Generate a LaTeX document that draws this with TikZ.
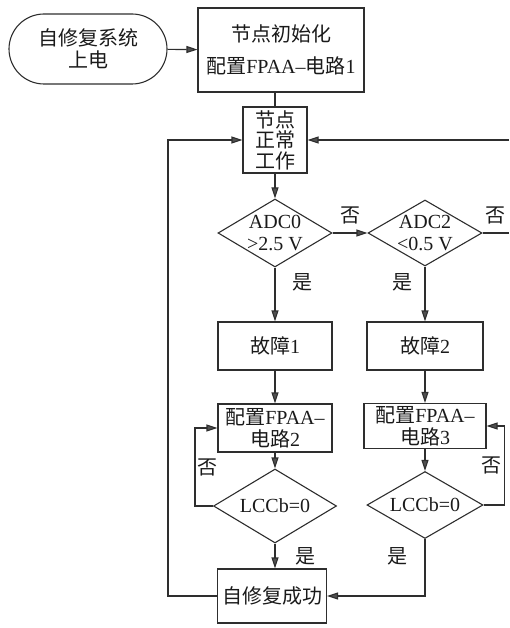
\documentclass[tikz,border=0pt]{standalone}
\usepackage{fontspec}
\usepackage{tikz}
\setmainfont{Liberation Serif}
\newfontfamily\cjk{Noto Sans CJK SC}
\usetikzlibrary{positioning, arrows.meta, shapes.geometric, shapes.misc}
\definecolor{lineDark}{HTML}{2E2E2E}
\definecolor{tipGray}{HTML}{505050}
\definecolor{fg}{HTML}{1A1A1A}
\newcommand{\zh}[1]{{\cjk #1}}
\tikzset{
  baseFont/.style={font=\fontsize{20pt}{22pt}\selectfont, text=fg},
  procBox/.style={baseFont, draw=lineDark, line width=1.1pt, rectangle, inner sep=1pt, align=center},
  termBox/.style={procBox, rounded rectangle, minimum width=160pt, minimum height=70pt},
  decBox/.style={procBox, diamond, aspect=1.7, inner sep=-6pt},
  flowLine/.style={draw=lineDark, line width=1.1pt},
  flowArrow/.style={flowLine, -{Triangle[length=11pt, width=7pt, fill=tipGray]}},
  yesNo/.style={baseFont, inner sep=2pt}
}

\begin{document}
\begin{tikzpicture}[x=1pt, y=-1pt]
      \useasboundingbox (0,0) rectangle (509,628);
      \node[termBox] (power) at (88,49) {\zh{自修复系统}\\\zh{上电}};
      \node[procBox, minimum width=166pt, minimum height=84pt] (init) at (281,50)
        {\zh{节点初始化}\\[10pt]\zh{配置}FPAA--\zh{电路}1};
      \node[procBox, minimum width=64pt, minimum height=66pt,
            font=\fontsize{20pt}{20.5pt}\selectfont] (normal) at (275,140)
        {\zh{节点}\\\zh{正常}\\\zh{工作}};
      \node[decBox, minimum width=114pt, minimum height=68pt] (adcA) at (275,233) {ADC0\\{>}2.5 V};
      \node[decBox, minimum width=114pt, minimum height=66pt] (adcB) at (425,233) {ADC2\\{<}0.5 V};
      \node[procBox, minimum width=114pt, minimum height=48pt] (faultA) at (275,346) {\zh{故障}1};
      \node[procBox, minimum width=116pt, minimum height=48pt] (faultB) at (425,346) {\zh{故障}2};
      \node[procBox, minimum width=114pt, minimum height=48pt] (cfgA) at (275,428)
        {\zh{配置}FPAA--\\\zh{电路}2};
      \node[procBox, minimum width=122pt, minimum height=45pt] (cfgB) at (425,426)
        {\zh{配置}FPAA--\\\zh{电路}3};
      \node[decBox, minimum width=123pt, minimum height=74pt] (lccA) at (275,506) {LCCb=0};
      \node[decBox, minimum width=116pt, minimum height=67pt] (lccB) at (425,505) {LCCb=0};
      \node[procBox, minimum width=109pt, minimum height=54pt] (done) at (272,596) {\zh{自修复成功}};

      % free ends at the cut edge and the back loop
      \coordinate (edgeTop) at (509,140);
      \coordinate (edgeMid) at (509,233);
      \coordinate (loopL) at (168,596);

      \draw[flowArrow] (power) -- (init);
      \draw[flowLine] (init.south -| normal.north) -- (normal.north);
      \draw[flowArrow] (normal) -- (adcA);
      \draw[flowArrow] (adcA) -- node[yesNo, above=6pt] {\zh{否}} (adcB);
      \draw[flowLine] (adcB) -- node[yesNo, above=6pt] {\zh{否}} (edgeMid);
      \draw[flowArrow] (edgeTop) -- (normal);
      \draw[flowArrow] (adcA) -- node[yesNo, pos=.28, right=15pt] {\zh{是}} (faultA);
      \draw[flowArrow] (adcB) -- node[yesNo, pos=.28, left=10pt] {\zh{是}} (faultB);
      \draw[flowArrow] (faultA) -- (cfgA);
      \draw[flowArrow] (faultB) -- (cfgB);
      \draw[flowArrow] (cfgA) -- (lccA);
      \draw[flowArrow] (cfgB) -- (lccB);
      \draw[flowArrow] (lccA.west) -- ++(-18,0) |- node[yesNo, pos=.25, right=0pt] {\zh{否}} (cfgA.west);
      \draw[flowArrow] (lccB.east) -- ++(21,0) |- node[yesNo, pos=.25, left=1pt] {\zh{否}} (cfgB.east);
      \draw[flowArrow] (lccA) -- node[yesNo, right=18pt] {\zh{是}} (lccA |- done.north);
      \draw[flowArrow] (lccB) |- node[yesNo, pos=.15, left=15pt] {\zh{是}} (done);
      \draw[flowArrow] (done) -- (loopL) |- (normal);
\end{tikzpicture}
\end{document}
